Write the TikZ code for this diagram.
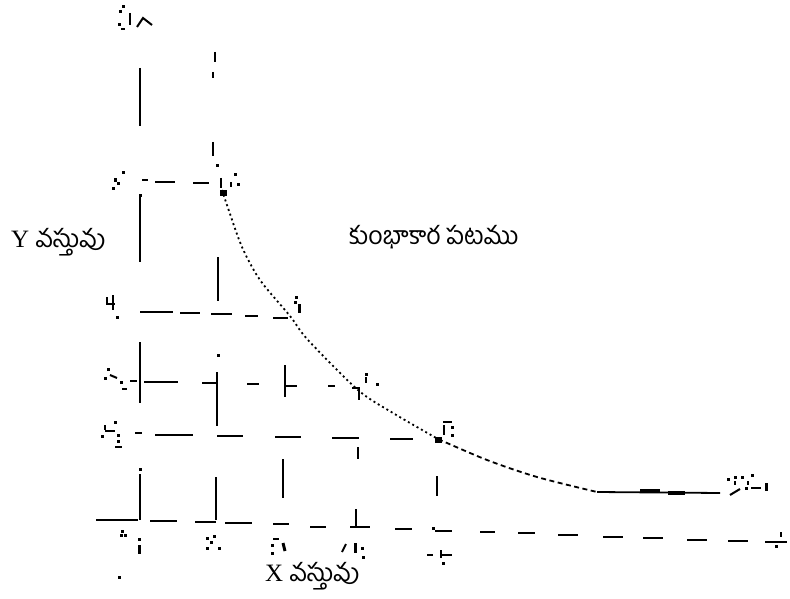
\documentclass[tikz,border=0pt]{standalone}
\usepackage{fontspec}
\setmainfont{Liberation Serif}
\newfontfamily\telugu[Script=Telugu]{Hind Guntur}
\newcommand\pix[2]{\fill ({#1-1.5},{#2-1.5}) rectangle ++(3,3);}
\begin{document}
\begin{tikzpicture}[x=1pt,y=-1pt,
  vseg/.style={line width=2.4pt},
  hseg/.style={line width=1.7pt},
  mk/.style={line width=2pt},
  dotcurve/.style={line width=1.8pt, dash pattern=on 2pt off 3pt},
  dashcurve/.style={line width=1.8pt, dash pattern=on 5pt off 3.5pt},
  lbl/.style={font=\fontsize{25}{28}\selectfont, inner sep=0pt}]
\useasboundingbox (0,0) rectangle (790,599);

% vertical dashed guide lines
\foreach \x/\a/\b in {140/68/126, 140/196/262, 140/342/403, 140/474/520,
  215/52/62, 213/72/78, 213/142/156, 218/257/301, 217/372/426, 216/477/520,
  285/365/397, 283/459/498,
  359/388/400, 358/447/459, 356/509/527,
  437/476/496}
  \draw[vseg] (\x,\a) -- (\x,\b);
\pix{218}{355}\pix{140}{469}\pix{217}{166}\pix{140}{195}

% horizontal dashed guide lines
\foreach \a/\b/\y in {142/148/180, 155/175/182, 193/209/183,
  140/173/312, 180/200/313, 211/232/314, 245/258/316, 273/288/318,
  130/137/381, 144/178/382, 202/217/383, 247/259/384, 285/297/386, 328/335/386, 352/360/388,
  135/142/433, 155/193/435, 217/243/436, 275/301/437, 332/359/438, 390/413/439}
  \draw[hseg] (\a,\y) -- (\b,\y);

% X axis (dashed, slightly sloping)
\foreach \a/\b/\y in {96/138/520, 150/177/521, 195/216/522, 225/252/523, 273/289/524,
  310/326/527, 350/370/527, 395/412/529, 435/452/531, 480/495/532, 518/535/533,
  558/578/535, 603/623/537, 643/663/538, 687/707/540, 728/748/541, 765/787/542}
  \draw[hseg] (\a,\y) -- (\b,\y);
\draw[mk] (781,532) -- (781,537); \pix{776}{546}

% indifference curve
\draw[dotcurve] plot[smooth] coordinates {(222,190) (228,208) (242,247) (260,280) (290,316) (308,340) (358,390) (393,413) (438,439)};
\draw[dashcurve] plot[smooth] coordinates {(438,439) (487,460) (537,477) (597,492)};
\draw[line width=1.8pt] (597,492) -- (720,493);
\draw[line width=3.2pt] (640,490.5) -- (660,490.5);
\draw[line width=3.2pt] (668,493) -- (685,493);

% degraded point / axis marks (as printed)
% top
\pix{123}{7}\pix{120}{12}\draw[mk] (130,13) -- (130,25);\pix{119}{25}\draw[mk] (121,29) -- (125,29);
\draw[mk] (137,27) -- (143,18) -- (152,25);
% left of y=182
\pix{123}{173}\pix{118}{183}\pix{115}{180}\pix{113}{188}
% top of curve
\draw[mk] (221,178) -- (221,188); \fill (220,190) rectangle (227,196);
\draw[mk] (231,182) -- (231,187); \pix{235}{175}\pix{238}{184}
% left of y=313
\draw[mk] (107,297) -- (107,305); \draw[mk] (107,304) -- (115,304); \draw[mk] (113,295) -- (113,310); \pix{117}{317}
% curve point 1
\pix{296}{297}\pix{295}{302}\draw[line width=3pt] (299,304) -- (299,313);
% left of y=382
\pix{108}{369}\pix{105}{378}\draw[mk] (110,375) -- (117,378);\pix{121}{382}\draw[mk] (122,389) -- (127,389);
% curve point 2
\pix{366}{374}\draw[mk] (366,377) -- (366,383);\pix{377}{384}
% left of y=435
\pix{115}{422}\draw[mk] (105,425) -- (105,430);\draw[mk] (105,431) -- (115,431);\pix{118}{435}\pix{118}{441}\draw[mk] (115,447) -- (122,447);\pix{102}{436}
% curve point 3
\draw[mk] (443,422) -- (452,422);\draw[mk] (444,425) -- (444,435);\pix{452}{427}\pix{452}{435}\fill (435,437) rectangle (442,443);
% end of curve
\pix{728}{479}\pix{735}{477}\pix{742}{477}\pix{752}{475}
\draw[mk] (735,481) -- (735,485);\draw[mk] (748,481) -- (748,485);
\draw[mk] (751,488) -- (761,488);\draw[line width=3pt] (766,483) -- (766,491);
\draw[mk] (730,495) -- (740,489);\pix{746}{488}
% x-axis marks
\pix{122}{531}\pix{121}{535}\pix{125}{535}\draw[line width=3pt] (139,545) -- (139,554);\pix{139}{539}
\pix{207}{538}\pix{214}{536}\pix{211}{542}\pix{207}{548}\pix{219}{548}
\draw[mk] (273,539) -- (279,539);\pix{272}{545}\draw[line width=3pt] (283,543) -- (285,551);\pix{272}{553}
\draw[mk] (342,552) -- (346,544);\draw[line width=3pt] (355,543) -- (355,553);\pix{362}{548}\pix{363}{557}
\draw[mk] (427,555) -- (433,555);\draw[mk] (441,550) -- (441,558);\draw[mk] (442,555) -- (452,555);\pix{443}{563}\pix{433}{528}
\pix{119}{577}

% texts
\node[lbl, anchor=base west] (ylab) at (11,247) {Y {\telugu వస్తువు}};
\node[lbl, anchor=base west] (xlab) at (265,581) {X {\telugu వస్తువు}};
\node[lbl, anchor=base west] (title) at (349,244) {\telugu కుంభాకార పటము};
\end{tikzpicture}
\end{document}
